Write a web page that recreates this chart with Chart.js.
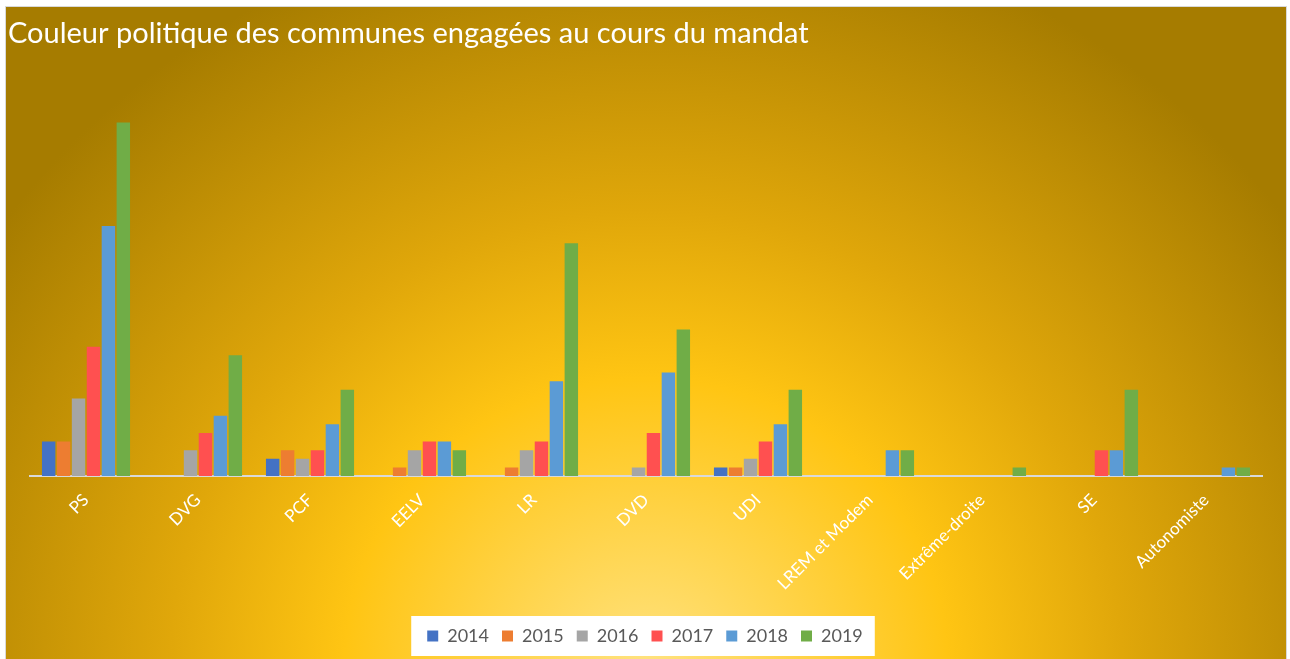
<!DOCTYPE html>
<html lang="fr">
<head>
<meta charset="utf-8">
<title>Couleur politique des communes engagées</title>
<script src="https://cdn.jsdelivr.net/npm/chart.js@4"></script>
<style>
    html, body {
        margin: 0;
        padding: 0;
        width: 1290px;
        height: 659px;
        overflow: hidden;
        background: #ffffff;
    }
    #panel {
        position: absolute;
        left: 5px;
        top: 6px;
        width: 1280px;
        height: 660px;
        border: 1px solid #d9d9d9;
        background: radial-gradient(ellipse 62% 115% at 50% 100%, #ffe27f 0%, #ffc513 38%, #e0a70a 60%, #a67c00 100%);
    }
    #chart-wrap {
        position: absolute;
        left: 0;
        top: 0;
        width: 1290px;
        height: 659px;
    }
</style>
</head>
<body>
<div id="panel"></div>
<div id="chart-wrap"><canvas id="parties-chart"></canvas></div>
<script>
// Categories (political colour) and one series per year
const parties = ['PS', 'DVG', 'PCF', 'EELV', 'LR', 'DVD', 'UDI', 'LREM et Modem', 'Extrême-droite', 'SE', 'Autonomiste'];

const values2014 = [4, 0, 2, 0, 0, 0, 1, 0, 0, 0, 0];
const values2015 = [4, 0, 3, 1, 1, 0, 1, 0, 0, 0, 0];
const values2016 = [9, 3, 2, 3, 3, 1, 2, 0, 0, 0, 0];
const values2017 = [15, 5, 3, 4, 4, 5, 4, 0, 0, 3, 0];
const values2018 = [29, 7, 6, 4, 11, 12, 6, 3, 0, 3, 1];
const values2019 = [41, 14, 10, 3, 27, 17, 10, 3, 1, 10, 1];

const yearColors = {
    '2014': '#4472c4',
    '2015': '#ed7d31',
    '2016': '#a5a5a5',
    '2017': '#ff5050',
    '2018': '#5b9bd5',
    '2019': '#70ad47'
};

// White box behind the legend items
const legendBox = {
    id: 'legendBox',
    beforeDraw(chart) {
        const boxes = chart.legend && chart.legend.legendHitBoxes;
        if (!boxes || !boxes.length) return;
        const ctx = chart.ctx;
        const left = Math.min(...boxes.map(b => b.left)) - 16;
        const right = Math.max(...boxes.map(b => b.left + b.width)) + 12;
        const top = Math.min(...boxes.map(b => b.top)) - 11;
        const bottom = Math.max(...boxes.map(b => b.top + b.height)) + 11;
        ctx.save();
        ctx.fillStyle = '#ffffff';
        ctx.fillRect(left, top, right - left, bottom - top);
        ctx.restore();
    }
};

function makeDataset(year, values) {
    return {
        label: year,
        data: values,
        backgroundColor: yearColors[year],
        borderWidth: 0
    };
}

const ctx = document.getElementById('parties-chart').getContext('2d');

new Chart(ctx, {
    type: 'bar',
    data: {
        labels: parties,
        datasets: [
            makeDataset('2014', values2014),
            makeDataset('2015', values2015),
            makeDataset('2016', values2016),
            makeDataset('2017', values2017),
            makeDataset('2018', values2018),
            makeDataset('2019', values2019)
        ]
    },
    options: {
        responsive: true,
        maintainAspectRatio: false,
        animation: false,
        layout: {
            padding: { left: 8, right: 8, top: 12, bottom: 4 }
        },
        plugins: {
            title: {
                display: true,
                text: 'Couleur politique des communes engagées au cours du mandat',
                align: 'start',
                color: '#ffffff',
                font: { family: 'Lato', size: 29, weight: 'normal' },
                padding: { top: 4, bottom: 20 }
            },
            legend: {
                position: 'bottom',
                labels: {
                    color: '#595959',
                    font: { family: 'Lato', size: 18 },
                    boxWidth: 11,
                    boxHeight: 11,
                    padding: 13
                }
            },
            tooltip: { enabled: false }
        },
        scales: {
            x: {
                grid: { display: false },
                border: { display: true, color: '#d9d9d9', width: 2 },
                ticks: {
                    color: '#ffffff',
                    font: { family: 'Lato', size: 17 },
                    maxRotation: 45,
                    minRotation: 45,
                    padding: 6
                },
                afterFit: (scale) => { scale.height = 138; }
            },
            y: {
                min: 0,
                max: 47,
                grid: { display: false },
                border: { display: false },
                ticks: { display: false },
                afterFit: (scale) => { scale.width = 22; }
            },
            yRight: {
                position: 'right',
                grid: { display: false },
                border: { display: false },
                ticks: { display: false },
                afterFit: (scale) => { scale.width = 20; }
            }
        }
    },
    plugins: [legendBox]
});
</script>
</body>
</html>
